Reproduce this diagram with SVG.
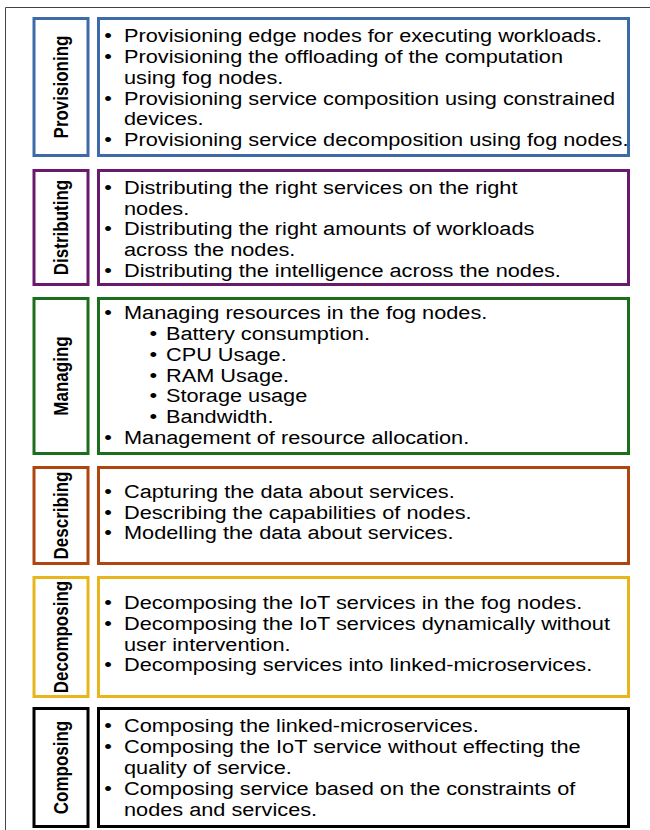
<svg xmlns="http://www.w3.org/2000/svg" width="650" height="830" viewBox="0 0 650 830">
<style>
.frame{fill:none;stroke:#444;stroke-width:1}
.box{fill:#fff;stroke-width:3}
.lbl{font-family:"Liberation Sans",Arial,sans-serif;font-weight:bold;font-size:17px;fill:#000;text-anchor:middle}
.t{font-family:"Liberation Sans",Arial,sans-serif;font-size:18px;fill:#000}
.bl{font-family:"Liberation Sans",Arial,sans-serif;font-size:18px;fill:#000;text-anchor:middle}
.blue{stroke:#3d6aa8}
.purple{stroke:#6a1a6e}
.green{stroke:#1c6e1c}
.brown{stroke:#b0460f}
.yellow{stroke:#e8b61c}
.black{stroke:#000}
</style>
<rect width="650" height="830" fill="#fff"/>
<path class="frame" d="M5.5 830 V7.5 H650"/>
<g id="connectors"/>

<g id="provisioning">
<rect class="box blue" x="34" y="18.5" width="54" height="137"/>
<rect class="box blue" x="98.5" y="18.5" width="530" height="137"/>
<text class="lbl" transform="translate(61 87) scale(1.2 1) rotate(-90)" x="0" y="6.1">Provisioning</text>
<g transform="scale(1.207 1)">
<text class="bl" x="89.48" y="42.5">•</text>
<text class="bl" x="89.48" y="63.2">•</text>
<text class="bl" x="89.48" y="104.6">•</text>
<text class="bl" x="89.48" y="146">•</text>
<text class="t"><tspan x="102.73" y="42.5">Provisioning edge nodes for executing workloads.</tspan><tspan x="102.73" y="63.2">Provisioning the offloading of the computation</tspan><tspan x="102.73" y="83.9">using fog nodes.</tspan><tspan x="102.73" y="104.6">Provisioning service composition using constrained</tspan><tspan x="102.73" y="125.3">devices.</tspan><tspan x="102.73" y="146">Provisioning service decomposition using fog nodes.</tspan></text>
</g>
</g>

<g id="distributing">
<rect class="box purple" x="34" y="170.5" width="54" height="114"/>
<rect class="box purple" x="98.5" y="170.5" width="530" height="114"/>
<text class="lbl" transform="translate(61 227.5) scale(1.2 1) rotate(-90)" x="0" y="6.1">Distributing</text>
<g transform="scale(1.207 1)">
<text class="bl" x="89.48" y="194">•</text>
<text class="bl" x="89.48" y="235.5">•</text>
<text class="bl" x="89.48" y="277">•</text>
<text class="t"><tspan x="102.73" y="194">Distributing the right services on the right</tspan><tspan x="102.73" y="214.7">nodes.</tspan><tspan x="102.73" y="235.5">Distributing the right amounts of workloads</tspan><tspan x="102.73" y="256.2">across the nodes.</tspan><tspan x="102.73" y="277">Distributing the intelligence across the nodes.</tspan></text>
</g>
</g>

<g id="managing">
<rect class="box green" x="34" y="298.5" width="54" height="155"/>
<rect class="box green" x="98.5" y="298.5" width="530" height="155"/>
<text class="lbl" transform="translate(61 376) scale(1.2 1) rotate(-90)" x="0" y="6.1">Managing</text>
<g transform="scale(1.207 1)">
<text class="bl" x="89.48" y="319.5">•</text>
<text class="bl" x="127" y="340.25">•</text>
<text class="bl" x="127" y="361">•</text>
<text class="bl" x="127" y="381.75">•</text>
<text class="bl" x="127" y="402.5">•</text>
<text class="bl" x="127" y="423.25">•</text>
<text class="bl" x="89.48" y="444">•</text>
<text class="t"><tspan x="102.73" y="319.5">Managing resources in the fog nodes.</tspan><tspan x="137.53" y="340.25">Battery consumption.</tspan><tspan x="137.53" y="361">CPU Usage.</tspan><tspan x="137.53" y="381.75">RAM Usage.</tspan><tspan x="137.53" y="402.5">Storage usage</tspan><tspan x="137.53" y="423.25">Bandwidth.</tspan><tspan x="102.73" y="444">Management of resource allocation.</tspan></text>
</g>
</g>

<g id="describing">
<rect class="box brown" x="34" y="467.5" width="54" height="96"/>
<rect class="box brown" x="98.5" y="467.5" width="530" height="96"/>
<text class="lbl" transform="translate(61 515.5) scale(1.2 1) rotate(-90)" x="0" y="6.1">Describing</text>
<g transform="scale(1.207 1)">
<text class="bl" x="89.48" y="498">•</text>
<text class="bl" x="89.48" y="518.7">•</text>
<text class="bl" x="89.48" y="539.4">•</text>
<text class="t"><tspan x="102.73" y="498">Capturing the data about services.</tspan><tspan x="102.73" y="518.7">Describing the capabilities of nodes.</tspan><tspan x="102.73" y="539.4">Modelling the data about services.</tspan></text>
</g>
</g>

<g id="decomposing">
<rect class="box yellow" x="34" y="577.5" width="54" height="119"/>
<rect class="box yellow" x="98.5" y="577.5" width="530" height="119"/>
<text class="lbl" transform="translate(61 637) scale(1.2 1) rotate(-90)" x="0" y="6.1">Decomposing</text>
<g transform="scale(1.207 1)">
<text class="bl" x="89.48" y="609.3">•</text>
<text class="bl" x="89.48" y="630">•</text>
<text class="bl" x="89.48" y="671.4">•</text>
<text class="t"><tspan x="102.73" y="609.3">Decomposing the IoT services in the fog nodes.</tspan><tspan x="102.73" y="630">Decomposing the IoT services dynamically without</tspan><tspan x="102.73" y="650.7">user intervention.</tspan><tspan x="102.73" y="671.4">Decomposing services into linked-microservices.</tspan></text>
</g>
</g>

<g id="composing">
<rect class="box black" x="34" y="708.5" width="54" height="118"/>
<rect class="box black" x="98.5" y="708.5" width="530" height="118"/>
<text class="lbl" transform="translate(61 767.5) scale(1.2 1) rotate(-90)" x="0" y="6.1">Composing</text>
<g transform="scale(1.207 1)">
<text class="bl" x="89.48" y="732">•</text>
<text class="bl" x="89.48" y="753">•</text>
<text class="bl" x="89.48" y="795">•</text>
<text class="t"><tspan x="102.73" y="732">Composing the linked-microservices.</tspan><tspan x="102.73" y="753">Composing the IoT service without effecting the</tspan><tspan x="102.73" y="774">quality of service.</tspan><tspan x="102.73" y="795">Composing service based on the constraints of</tspan><tspan x="102.73" y="816">nodes and services.</tspan></text>
</g>
</g>
</svg>
